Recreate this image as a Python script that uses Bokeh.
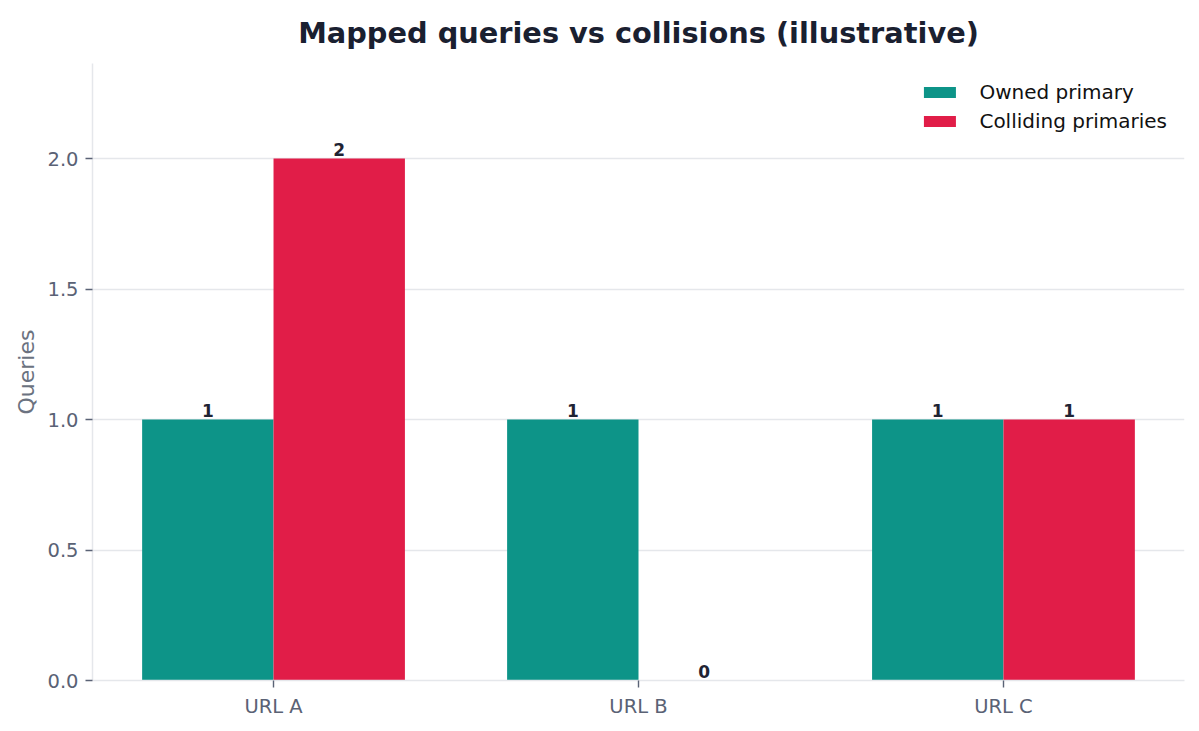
from bokeh.plotting import figure
from bokeh.models import ColumnDataSource, FixedTicker, NumeralTickFormatter, Range1d, Legend
from bokeh.transform import dodge
from bokeh.core.properties import value
from bokeh.embed import file_html
from bokeh.resources import INLINE

categories = ["URL A", "URL B", "URL C"]
owned = [1, 1, 1]
colliding = [2, 0, 1]

TEAL = "#0d9488"
ROSE = "#e11d48"
FONT = "DejaVu Sans"

pos = list(range(len(categories)))
src = ColumnDataSource(dict(
    x=pos, owned=owned, colliding=colliding,
    owned_txt=[str(v) for v in owned],
    coll_txt=[str(v) for v in colliding],
))

p = figure(
    frame_width=1092, frame_height=617,
    min_border_left=92, min_border_right=7, min_border_top=63, min_border_bottom=43,
    x_range=Range1d(-0.496, 2.496), y_range=Range1d(0, 2.364),
    title="Mapped queries vs collisions (illustrative)",
    output_backend="svg", toolbar_location=None, tools="",
)

bw = 0.36
r1 = p.vbar(x=dodge("x", -bw / 2), top="owned", width=bw, source=src,
            fill_color=TEAL, line_color=None)
r2 = p.vbar(x=dodge("x", bw / 2), top="colliding", width=bw, source=src,
            fill_color=ROSE, line_color=None)

for col, txt, off in [("owned", "owned_txt", -bw / 2), ("colliding", "coll_txt", bw / 2)]:
    p.text(x=dodge("x", off), y=col, text=txt, source=src,
           text_align="center", text_baseline="bottom", y_offset=-3,
           text_font=value(FONT), text_font_style="bold",
           text_font_size="17px", text_color="#1f2333")

legend = Legend(items=[("Owned primary", [r1]), ("Colliding primaries", [r2])],
                location="top_right")
legend.border_line_color = None
legend.background_fill_alpha = 0
legend.label_text_font = FONT
legend.label_text_font_size = "20px"
legend.label_text_color = "#111111"
legend.glyph_width = 40
legend.glyph_height = 14
legend.label_height = 22
legend.spacing = 5
legend.label_standoff = 20
legend.margin = 17
legend.padding = 9
p.add_layout(legend)

p.title.text_font = FONT
p.title.text_font_size = "28.8px"
p.title.text_font_style = "bold"
p.title.text_color = "#1a2030"
p.title.align = "center"
p.title.offset = 0
p.title.standoff = 27

p.outline_line_color = None
p.xgrid.grid_line_color = None
p.ygrid.grid_line_color = "#e5e7eb"
p.ygrid.grid_line_width = 1.3

p.xaxis.ticker = FixedTicker(ticks=pos)
p.xaxis.major_label_overrides = {i: c for i, c in enumerate(categories)}
p.yaxis.ticker = FixedTicker(ticks=[0, 0.5, 1.0, 1.5, 2.0])
p.yaxis.formatter = NumeralTickFormatter(format="0.0")
p.yaxis.axis_label = "Queries"

for ax in (p.xaxis, p.yaxis):
    ax.axis_line_color = "#e5e7eb"
    ax.axis_line_width = 1.5
    ax.major_tick_line_color = "#5a6275"
    ax.major_tick_line_width = 1.4
    ax.major_tick_out = 7
    ax.major_tick_in = 0
    ax.minor_tick_line_color = None
    ax.major_label_text_font = FONT
    ax.major_label_text_font_size = "19.5px"
    ax.major_label_text_color = "#5a6275"
    ax.axis_label_text_font = FONT
    ax.axis_label_text_font_size = "22px"
    ax.axis_label_text_font_style = "normal"
    ax.axis_label_text_color = "#6b7280"
    ax.axis_label_standoff = 5
    ax.major_label_standoff = 7

open("out.html", "w").write(file_html(p, INLINE))
